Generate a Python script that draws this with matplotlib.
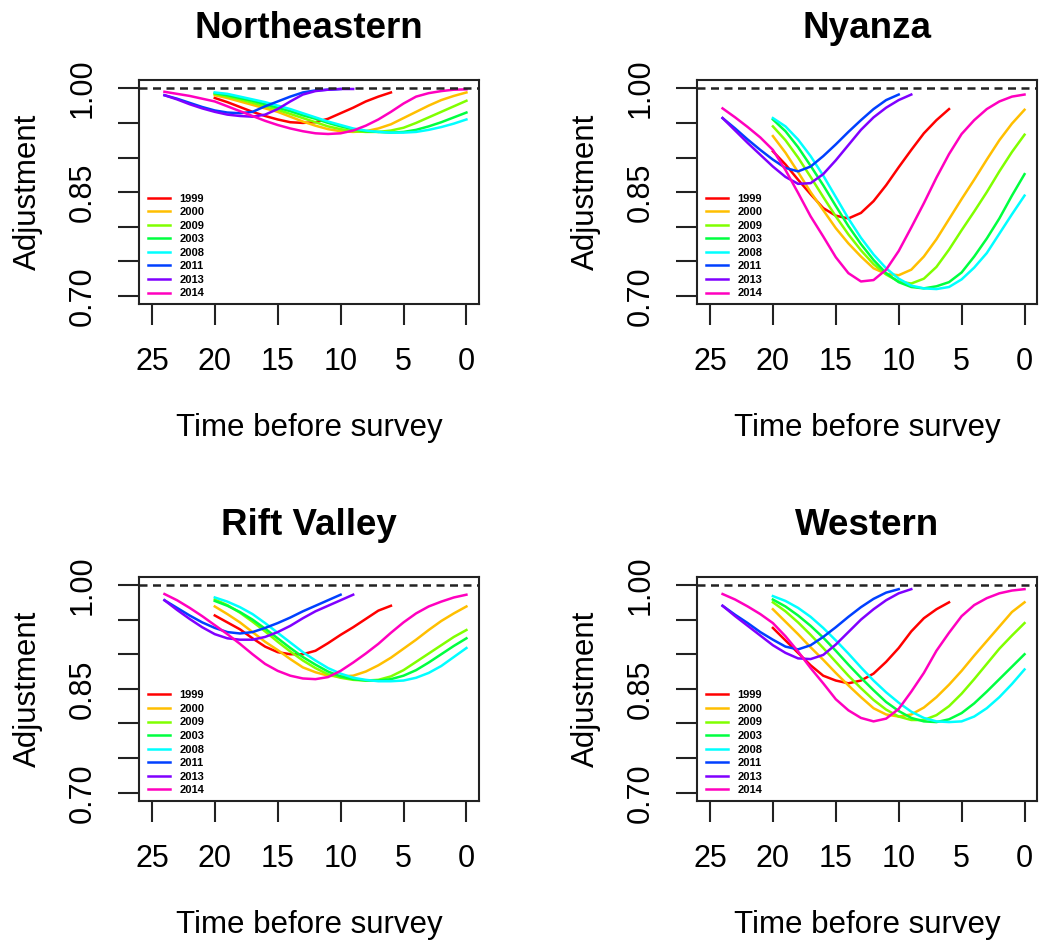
import numpy as np
import matplotlib
matplotlib.use("Agg")
import matplotlib.pyplot as plt

plt.rcParams['font.family'] = ['Liberation Sans', 'DejaVu Sans']

# --- Data ---
surveys = ["1999", "2000", "2009", "2003", "2008", "2011", "2013", "2014"]
colors = ["#FF0000", "#FFBF00", "#80FF00", "#00FF40",
          "#00FFFF", "#0040FF", "#8000FF", "#FF00BF"]   # R rainbow(8)
t_start = [20, 20, 20, 20, 20, 24, 24, 24]   # years before survey
t_end = [6, 0, 0, 0, 0, 10, 9, 0]

northeastern = {
    "1999": [.986, .980, .973, .966, .960, .955, .951, .950, .951, .956, .964, .972, .981, .988, .994],
    "2000": [.990, .986, .981, .976, .971, .966, .959, .952, .946, .941, .938, .937, .938, .942, .948,
             .957, .966, .975, .983, .989, .994],
    "2009": [.992, .988, .984, .979, .974, .969, .963, .957, .951, .945, .941, .938, .937, .937, .939,
             .943, .950, .958, .966, .974, .982],
    "2003": [.993, .990, .986, .982, .977, .972, .967, .961, .956, .950, .945, .941, .938, .937, .936,
             .937, .940, .945, .951, .958, .965],
    "2008": [.994, .992, .988, .984, .980, .975, .970, .964, .958, .952, .947, .942, .939, .937, .936,
             .936, .937, .940, .944, .949, .955],
    "2011": [.990, .985, .979, .973, .968, .965, .964, .966, .974, .981, .988, .994, .997, .998, .999],
    "2013": [.990, .984, .977, .971, .966, .962, .960, .959, .962, .970, .981, .991, .996, .998, .999, .999],
    "2014": [.995, .992, .989, .985, .981, .974, .967, .960, .953, .947, .942, .938, .935, .934, .935,
             .939, .946, .955, .966, .978, .988, .993, .996, .998, .9985],
}

nyanza = {
    "1999": [.909, .890, .868, .847, .827, .816, .812, .820, .837, .860, .886, .911, .935, .954, .970],
    "2000": [.931, .907, .879, .850, .824, .798, .776, .757, .740, .732, .730, .738, .757, .782, .811,
             .840, .868, .897, .925, .949, .969],
    "2009": [.945, .925, .900, .872, .843, .815, .789, .766, .746, .731, .721, .718, .725, .742, .767,
             .795, .822, .850, .880, .908, .933],
    "2003": [.955, .938, .915, .888, .860, .830, .801, .775, .752, .733, .720, .713, .711, .714, .720,
             .734, .757, .783, .812, .845, .876],
    "2008": [.957, .945, .926, .902, .874, .843, .812, .784, .760, .740, .725, .715, .711, .710, .713,
             .724, .741, .762, .790, .818, .845],
    "2011": [.957, .942, .926, .911, .897, .885, .880, .887, .902, .919, .937, .954, .970, .983, .991],
    "2013": [.957, .939, .921, .904, .887, .872, .862, .863, .876, .896, .918, .940, .958, .972, .983, .991],
    "2014": [.971, .958, .944, .929, .911, .882, .849, .815, .786, .756, .733, .721, .723, .738, .765,
             .799, .834, .871, .905, .934, .954, .970, .981, .988, .991],
}

rift_valley = {
    "1999": [.956, .946, .936, .923, .911, .903, .900, .900, .905, .916, .928, .939, .951, .963, .970],
    "2000": [.969, .958, .946, .932, .918, .906, .893, .881, .874, .869, .868, .869, .875, .884, .895,
             .908, .921, .935, .948, .959, .969],
    "2009": [.979, .971, .960, .947, .933, .918, .904, .891, .880, .871, .866, .863, .862, .863, .868,
             .877, .889, .901, .913, .925, .935],
    "2003": [.977, .970, .961, .950, .937, .923, .909, .896, .885, .875, .868, .864, .862, .862, .864,
             .869, .877, .888, .900, .912, .923],
    "2008": [.982, .976, .968, .958, .945, .931, .917, .903, .891, .880, .872, .866, .863, .861, .861,
             .862, .866, .873, .883, .896, .909],
    "2011": [.978, .967, .956, .946, .938, .932, .930, .932, .938, .945, .953, .962, .970, .978, .986],
    "2013": [.978, .964, .951, .939, .929, .923, .921, .921, .925, .932, .941, .952, .962, .970, .978, .986],
    "2014": [.987, .978, .967, .955, .942, .929, .915, .900, .886, .876, .869, .865, .864, .867, .876,
             .888, .901, .915, .931, .946, .959, .969, .976, .982, .986],
}

western = {
    "1999": [.938, .920, .902, .884, .869, .862, .858, .862, .872, .889, .909, .933, .952, .965, .975],
    "2000": [.965, .947, .929, .910, .892, .873, .855, .838, .822, .813, .810, .813, .823, .838, .856,
             .876, .898, .919, .940, .961, .975],
    "2009": [.975, .962, .946, .928, .909, .889, .869, .851, .834, .820, .810, .805, .805, .812, .825,
             .843, .864, .886, .908, .927, .945],
    "2003": [.979, .969, .956, .941, .924, .905, .885, .866, .848, .831, .818, .808, .803, .802, .806,
             .815, .829, .846, .864, .882, .900],
    "2008": [.984, .977, .967, .954, .938, .920, .901, .881, .862, .845, .830, .817, .808, .803, .802,
             .803, .810, .822, .838, .857, .878],
    "2011": [.970, .957, .945, .932, .921, .911, .907, .913, .925, .939, .954, .968, .980, .989, .994],
    "2013": [.970, .955, .941, .927, .913, .902, .894, .893, .899, .914, .932, .950, .965, .978, .988, .994],
    "2014": [.987, .979, .969, .958, .945, .926, .904, .880, .858, .835, .819, .808, .803, .807, .821,
             .846, .873, .905, .931, .955, .971, .981, .988, .992, .994],
}

regions = ["Northeastern", "Nyanza", "Rift Valley", "Western"]
region_data = [northeastern, nyanza, rift_valley, western]

# --- Layout (pixel-matched to a 1050x950 R device) ---
W, H = 1050, 950
fig = plt.figure(figsize=(W / 100, H / 100), dpi=100)
boxes = [(139.3, 80.0), (697.4, 80.0), (139.3, 576.7), (697.4, 576.7)]
bw, bh = 339.7, 224.3

for (left, top), name, data in zip(boxes, regions, region_data):
    ax = fig.add_axes([left / W, 1 - (top + bh) / H, bw / W, bh / H])
    for yr, col, s, e in zip(surveys, colors, t_start, t_end):
        t = np.arange(s, e - 1, -1)
        ax.plot(t, data[yr], color=col, lw=1.8, label=yr)
    ax.axhline(1.0, color="#222222", lw=1.8, linestyle=(0, (3.2, 2.2)))

    ax.set_xlim(26, -1)
    ax.set_ylim(0.688, 1.012)
    ax.set_xticks([25, 20, 15, 10, 5, 0])
    ax.set_yticks([0.70, 0.75, 0.80, 0.85, 0.90, 0.95, 1.00])
    ax.set_yticklabels(["0.70", "", "", "0.85", "", "", "1.00"],
                       rotation=90, va="center")
    ax.tick_params(axis="both", labelsize=22, length=15, width=1.5,
                   color="#222222")
    ax.tick_params(axis="x", pad=16)
    ax.tick_params(axis="y", pad=15)
    for sp in ax.spines.values():
        sp.set_linewidth(1.5)
        sp.set_color("#222222")

    ax.set_title(name, fontsize=26.5, fontweight="bold", pad=30)
    ax.set_xlabel("Time before survey", fontsize=22.5, labelpad=26)
    ax.set_ylabel("Adjustment", fontsize=22.5, labelpad=18)

    ax.legend(loc="lower left", bbox_to_anchor=(0.026, 0.026),
              frameon=False, borderaxespad=0, borderpad=0,
              prop={"size": 8, "weight": "bold"},
              handlelength=2.0, handletextpad=0.8, labelspacing=0.32)

fig.savefig("out.png", dpi=100)
